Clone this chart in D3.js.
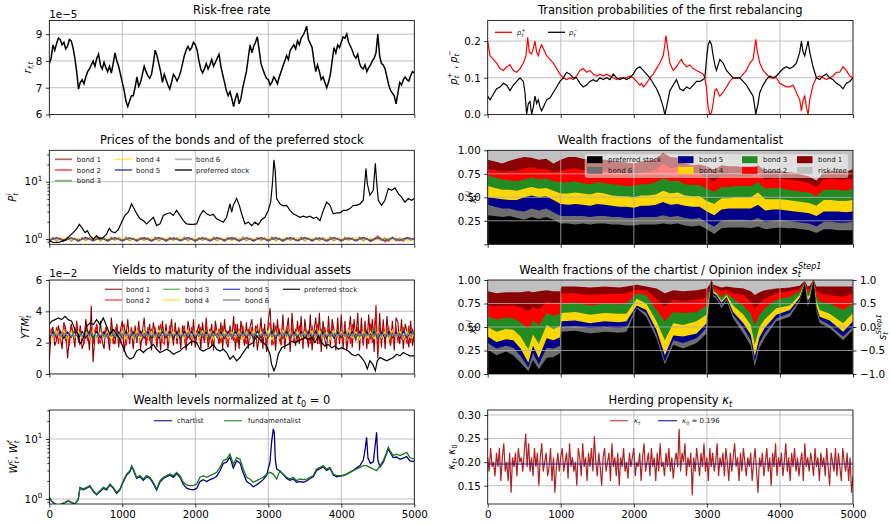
<!DOCTYPE html>
<html>
<head>
<meta charset="utf-8">
<script src="https://cdn.jsdelivr.net/npm/d3@7"></script>
<style>
  body { margin: 0; background: #fff; }
  svg { display: block; }
  text { font-family: "DejaVu Sans", sans-serif; }
</style>
</head>
<body>
<script>
// ---------------------------------------------------------------------------
// Simulation output, t = 0 … 5000
// ---------------------------------------------------------------------------
const xTicks = [0, 1000, 2000, 3000, 4000, 5000];

// Risk-free rate, in units of 1e-5, every 25 steps
const riskFree = [
  7.9,8.1,8.6,8.4,8.65,8.85,8.8,8.6,8.7,8.45,8.55,8.8,8.75,8.5,8.1,7.6,6.95,7.2,7.3,7.15,
  7.4,7.6,7.7,7.85,8.0,7.8,8.1,8.25,7.85,7.7,7.95,7.75,7.6,7.8,7.55,7.9,8.3,8.0,7.8,7.5,
  7.2,6.9,6.5,6.3,6.5,6.7,6.7,7.0,7.4,7.05,7.2,7.5,7.8,7.6,7.45,7.35,7.5,7.9,8.4,8.2,
  7.9,7.6,7.2,7.5,7.3,7.1,6.95,7.2,7.5,7.4,7.25,7.4,7.6,7.9,8.2,8.4,8.55,8.4,8.5,8.7,
  8.6,8.4,8.0,7.7,7.55,7.7,7.9,7.7,7.85,8.05,7.8,7.95,8.1,8.25,7.8,7.5,7.2,6.9,6.7,6.85,
  6.6,6.3,6.6,6.8,6.4,6.6,7.0,7.3,7.6,8.1,8.6,8.3,8.55,8.7,8.9,8.4,7.9,7.7,7.5,7.35,
  7.3,7.1,7.2,7.4,7.3,7.15,7.4,7.6,7.8,8.0,8.2,8.05,8.4,8.5,8.6,8.45,8.75,8.6,8.85,8.95,
  9.1,9.3,8.8,8.65,8.5,8.0,7.6,7.85,7.6,7.3,7.4,7.2,7.0,7.2,7.5,8.0,8.5,8.3,8.6,8.5,
  8.7,8.9,8.85,9.0,8.7,8.55,8.4,8.2,8.1,8.25,7.9,7.75,7.7,7.85,7.6,7.75,7.85,8.0,8.1,8.3,
  9.0,8.2,7.9,7.85,7.7,7.4,7.1,6.9,6.8,6.7,6.4,6.8,7.2,7.1,7.3,7.4,7.3,7.25,7.45,7.6,
  7.55
];

// Transition probabilities of the first rebalancing, [t, p]
const pPlus = [
  [0,0.2],[32,0.16],[77,0.15],[123,0.14],[169,0.125],[214,0.12],[260,0.13],[305,0.135],[351,0.12],[397,0.115],
  [442,0.125],[488,0.14],[524,0.16],[547,0.21],[570,0.17],[602,0.165],[624,0.18],[647,0.2],[670,0.17],[693,0.16],
  [716,0.18],[738,0.19],[761,0.18],[784,0.17],[807,0.16],[852,0.15],[898,0.14],[944,0.125],[989,0.11],[1035,0.1],
  [1080,0.095],[1126,0.1],[1171,0.095],[1217,0.105],[1263,0.12],[1308,0.125],[1354,0.115],[1399,0.12],[1445,0.11],[1490,0.105],
  [1536,0.11],[1582,0.105],[1627,0.11],[1673,0.105],[1718,0.1],[1764,0.095],[1810,0.1],[1855,0.1],[1901,0.1],[1946,0.105],
  [1992,0.1],[2037,0.09],[2083,0.08],[2106,0.085],[2129,0.075],[2174,0.085],[2220,0.1],[2265,0.11],[2311,0.125],[2356,0.14],
  [2402,0.16],[2425,0.19],[2439,0.215],[2457,0.19],[2493,0.14],[2539,0.12],[2584,0.13],[2630,0.145],[2653,0.15],[2676,0.14],
  [2721,0.13],[2767,0.135],[2812,0.125],[2858,0.12],[2903,0.115],[2949,0.11],[2972,0.1],[2995,0.07],[3017,0.02],[3040,0.0],
  [3063,0.005],[3086,0.03],[3109,0.065],[3131,0.07],[3177,0.05],[3222,0.06],[3268,0.075],[3314,0.09],[3359,0.1],[3405,0.1],
  [3450,0.1],[3496,0.11],[3542,0.12],[3587,0.14],[3633,0.15],[3669,0.205],[3692,0.17],[3724,0.14],[3770,0.12],[3815,0.11],
  [3861,0.1],[3906,0.1],[3952,0.1],[3997,0.085],[4043,0.08],[4089,0.075],[4134,0.075],[4180,0.08],[4225,0.06],[4271,0.04],
  [4294,0.01],[4317,0.04],[4339,0.05],[4362,0.02],[4385,0.0],[4408,0.04],[4453,0.08],[4499,0.1],[4544,0.105],[4590,0.1],
  [4636,0.095],[4681,0.1],[4727,0.105],[4772,0.115],[4818,0.115],[4863,0.13],[4909,0.12],[4955,0.105],[5000,0.1]
];
const pMinus = [
  [0,0.05],[32,0.04],[77,0.055],[123,0.07],[169,0.075],[214,0.085],[260,0.08],[305,0.065],[351,0.08],[397,0.09],
  [442,0.1],[488,0.09],[510,0.06],[533,0.0],[556,0.03],[579,0.035],[602,0.0],[624,0.02],[647,0.05],[670,0.03],
  [693,0.04],[716,0.02],[738,0.01],[761,0.02],[807,0.04],[852,0.045],[898,0.06],[944,0.075],[989,0.09],[1035,0.1],
  [1080,0.115],[1126,0.11],[1171,0.1],[1217,0.1],[1263,0.085],[1308,0.075],[1354,0.08],[1399,0.09],[1445,0.095],[1490,0.09],
  [1536,0.1],[1582,0.095],[1627,0.1],[1673,0.095],[1718,0.11],[1764,0.1],[1810,0.095],[1855,0.1],[1901,0.095],[1946,0.1],
  [1992,0.11],[2037,0.125],[2083,0.13],[2129,0.12],[2174,0.11],[2220,0.1],[2265,0.085],[2311,0.07],[2356,0.05],[2402,0.02],
  [2425,0.0],[2448,0.02],[2493,0.065],[2539,0.08],[2584,0.095],[2630,0.07],[2676,0.065],[2721,0.075],[2767,0.07],[2812,0.08],
  [2858,0.09],[2903,0.09],[2949,0.095],[2972,0.1],[2995,0.15],[3017,0.19],[3040,0.2],[3063,0.19],[3086,0.16],[3109,0.135],
  [3131,0.12],[3177,0.15],[3222,0.14],[3268,0.12],[3314,0.11],[3359,0.1],[3405,0.1],[3450,0.1],[3496,0.09],[3542,0.08],
  [3587,0.065],[3633,0.05],[3656,0.02],[3669,0.0],[3701,0.03],[3724,0.06],[3770,0.08],[3815,0.095],[3861,0.105],[3906,0.1],
  [3952,0.105],[3997,0.115],[4043,0.125],[4089,0.13],[4134,0.125],[4180,0.13],[4225,0.14],[4271,0.17],[4294,0.2],[4317,0.17],
  [4339,0.16],[4362,0.18],[4385,0.2],[4408,0.17],[4453,0.13],[4499,0.1],[4544,0.095],[4590,0.105],[4636,0.11],[4681,0.1],
  [4727,0.095],[4772,0.085],[4818,0.08],[4863,0.07],[4909,0.085],[4955,0.09],[5000,0.1]
];

// Bond prices (evenly spaced over t)
const bondPrice1 = [
  0.93,1.07,0.91,1.05,0.95,1.08,0.92,1.04,0.90,1.06,0.94,1.05,0.92,1.08,0.93,1.04,0.91,1.07,0.95,1.05,
  0.92,1.08,0.93,1.04,0.91,1.06,0.94,1.05,0.92,1.08,0.93,1.04,0.91,1.07,0.95,1.05,0.92,1.08,0.93,1.04,
  0.91,1.06,0.94,1.05,0.92,1.08,0.93,1.04,0.91,1.07,0.95,1.05,0.92,1.08,0.93,1.04,0.91,1.06,0.94,1.05,
  0.92,1.09,0.93,1.04,0.91,1.07,0.95,1.05,0.92,1.08,0.93,1.04,0.91,1.06,0.94,1.05,0.92,1.08,0.93,1.04,
  0.91,1.07,0.95,1.05,0.92,1.08,0.93,1.04,0.90,0.97,1.07,0.94,1.05,0.92,1.08,0.93,1.04,0.91,1.06,0.95,1.0
];
const bondPrice2 = [
  0.94,1.06,0.92,1.05,0.93,1.07,0.94,1.05,0.92,1.06,0.93,1.05,0.94,1.07,0.92,1.06,0.93,1.05,0.94,1.06,
  0.92,1.07,0.93,1.05,0.94,1.06,0.92,1.05,0.93,1.07,0.94,1.06,0.92,1.05,0.93,1.07,0.94,1.05,0.92,1.06,
  0.93,1.05,0.94,1.07,0.92,1.14,0.89,1.05,0.93,1.06,0.99
];
const bondPrice3 = [
  0.95,1.05,0.93,1.06,0.94,1.05,0.95,1.07,0.93,1.05,0.94,1.06,0.95,1.05,0.93,1.07,0.94,1.05,0.95,1.06,
  0.93,1.05,0.94,1.07,0.95,1.05,0.93,1.06,0.94,1.05,0.95,1.07,0.93,1.05,0.94,1.06,0.95,1.05,0.93,1.07,
  0.94,1.05,0.95,1.06,0.93,1.05,0.94,1.07,0.95,1.05,1.0
];
const bondPrice4 = [
  1.05,0.94,1.06,0.95,1.05,0.93,1.06,0.94,1.05,0.95,1.07,0.94,1.05,0.93,1.06,0.95,1.05,0.94,1.07,0.93,
  1.05,0.95,1.06,0.94,1.05,0.93,1.07,0.95,1.05,0.94,1.06,0.93,1.05,0.95,1.07,0.94,1.05,0.93,1.06,0.95,
  1.05,0.94,1.07,0.93,1.05,0.95,1.06,0.94,1.05,0.93,1.0
];
const bondPrice5 = [
  0.96,1.05,0.94,1.04,0.95,1.06,0.94,1.04,0.96,1.05,0.94,1.04,0.95,1.05,0.94,1.06,0.96,1.04,0.94,1.05,
  0.95,1.04,0.94,1.05,0.96,1.06,0.94,1.04,0.95,1.05,0.94,1.04,0.96,1.06,0.94,1.05,0.95,1.04,0.94,1.05,
  0.96,1.04,0.94,1.06,0.95,1.05,0.94,1.04,0.96,1.05,1.0
];
const bondPrice6 = [
  0.96,1.03,0.95,1.04,0.96,1.03,0.95,1.04,0.96,1.03,0.95,1.04,0.96,1.03,0.95,1.04,0.96,1.03,0.95,1.04,
  0.96,1.03,0.95,1.04,0.96,1.03,0.95,1.04,0.96,1.03,0.95,1.04,0.96,1.03,0.95,1.04,0.96,1.03,0.95,1.04,
  0.96,1.03,0.95,1.04,0.96,1.03,0.95,1.04,0.96,1.03,1.0
];

// Preferred stock price, [t, P]
const prefPrice = [
  [0,0.93],[55,0.87],[123,0.87],[192,0.93],[237,1.0],[283,1.15],[329,1.31],[374,1.5],[411,1.8],[443,1.6],
  [489,1.3],[521,1.4],[557,1.15],[603,1.0],[648,1.15],[694,1.0],[740,1.07],[785,1.22],[822,1.54],[854,1.35],
  [899,1.28],[945,1.46],[991,1.97],[1036,2.58],[1082,2.95],[1128,4.1],[1151,3.6],[1196,2.8],[1242,2.25],[1288,2.1],
  [1333,1.84],[1379,2.1],[1425,2.4],[1470,1.72],[1516,1.84],[1562,2.58],[1607,2.76],[1653,2.87],[1699,2.58],[1744,3.16],
  [1790,2.58],[1836,2.1],[1881,1.84],[1927,1.8],[1973,1.8],[2018,1.84],[2064,2.58],[2109,3.16],[2155,2.76],[2201,2.58],
  [2246,2.7],[2292,2.25],[2338,2.1],[2383,1.97],[2429,2.4],[2475,4.1],[2498,2.95],[2520,3.87],[2566,5.1],[2603,3.87],
  [2635,2.76],[2680,1.84],[2726,1.97],[2772,1.72],[2817,1.97],[2863,1.77],[2909,2.2],[2954,2.4],[3000,3.16],[3032,4.4],
  [3059,10],[3077,24],[3096,15],[3114,5.1],[3160,4.1],[3205,3.8],[3251,3.87],[3297,3.16],[3342,2.76],[3388,2.58],
  [3434,2.4],[3479,2.5],[3525,2.4],[3571,2.5],[3616,2.3],[3662,2.4],[3708,2.1],[3753,3.16],[3799,4.4],[3845,3.87],
  [3890,2.76],[3936,2.87],[3982,2.87],[4027,3.16],[4073,3.16],[4119,3.4],[4164,3.87],[4210,3.87],[4256,4.1],[4301,4.75],
  [4338,17],[4356,9.3],[4392,5.8],[4438,7.1],[4466,21],[4484,10],[4507,4.75],[4552,3.87],[4598,4.75],[4644,7.6],
  [4689,7.1],[4735,7.8],[4781,6.2],[4826,5.4],[4872,4.4],[4918,5.1],[4963,4.75],[5000,5.1]
];

// Yields to maturity, in units of 1e-2 (evenly spaced over t)
const bondYield1 = [
  0.9,2.6,3.0,1.8,2.2,3.1,2.4,1.6, 3.3,2.9,1.0,2.3,3.2,2.6,1.7,3.4, 2.2,3.1,1.6,2.0,3.5,2.7,1.5,4.35,
  0.75,2.5,3.2,1.9,3.4,2.1,1.6,3.0, 2.6,1.5,3.6,2.3,1.9,3.2,1.7,2.8, 3.4,1.4,2.4,3.5,1.9,2.9,1.6,3.1,
  2.0,3.4,1.6,2.7,3.6,1.8,2.4,3.2, 1.5,3.3,2.6,1.7,3.1,1.5,3.4,2.2, 3.2,1.6,2.5,3.5,1.8,3.3,1.9,2.9,
  1.6,3.1,2.3,1.5,3.4,2.7,1.8,3.5, 1.7,2.7,3.2,1.6,3.3,2.0,3.6,1.7, 2.4,3.2,1.5,3.4,2.6,1.9,3.3,1.6,
  3.5,2.0,1.7,3.1,2.2,3.7,1.5,3.2, 1.6,3.4,2.6,1.8,3.3,1.6,3.0,3.5, 1.7,3.1,1.5,2.4,3.6,1.6,3.2,1.4,
  3.4,4.2,1.8,3.3,1.5,3.5,2.2,1.9, 3.8,1.6,2.8,3.6,1.4,3.9,2.3,1.8, 3.4,1.9,3.7,1.6,3.5,2.5,1.7,3.8,
  1.5,2.7,3.6,1.9,3.9,1.4,3.4,2.2, 1.6,3.7,1.8,3.5,2.8,1.5,3.6,1.9, 3.8,1.6,3.4,1.5,2.6,3.7,1.7,3.5,
  2.3,3.9,1.5,3.6,1.8,3.4,1.6,3.8, 2.2,3.5,1.4,4.4,1.0,3.9,1.7,3.5, 1.6,3.7,2.4,1.8,3.4,1.5,3.6,3.3,
  1.9,3.5,1.6,3.2,2.7,1.7,3.4,1.8, 2.6
];
const bondYield2 = [
  2.0,2.9,2.6,2.2,3.0,1.9,2.8,2.3, 3.1,2.1,2.5,1.8,3.0,2.7,2.2,3.2, 2.0,2.9,2.3,1.9,3.1,2.1,2.6,3.0,
  1.9,2.8,3.1,2.2,2.0,2.7,2.3,3.0, 2.5,2.1,3.0,1.9,2.8,3.1,2.2,2.0, 2.9,3.2,1.8,2.6,2.1,3.0,2.3,2.8,
  2.0,3.1,2.5,2.2,2.8,1.9,3.0,2.1, 2.9,2.3,3.0,2.0,2.6,3.2,2.1,1.9, 2.8,2.2,3.1,2.5,2.0,2.9,2.3,3.0,
  2.1,2.7,3.1,1.9,2.9,2.2,3.0,2.4, 2.0,2.8,2.2,3.0,2.6,2.0,3.2,2.1, 2.9,1.8,2.5,3.0,2.3,2.9,2.0,3.1,
  2.2,2.8,1.9,3.0,2.6,2.1,3.2,2.0, 2.9,2.2,3.1,2.4,1.9,2.9,2.2,3.0, 2.0,2.8,3.1,2.3,2.0,2.9,2.6,1.9,
  3.0,3.3,2.1,1.9,3.1,2.5,2.9,1.8, 3.2,2.2,3.0,2.6,1.9,3.2,2.0,2.9, 2.1,3.1,2.4,2.0,3.0,2.2,2.8,1.9,
  3.1,2.1,2.7,3.2,1.9,2.9,2.3,3.0, 2.2,2.9,2.0,3.1,2.5,1.9,3.0,2.2, 2.8,2.0,3.1,2.3,2.9,1.9,3.2,2.5,
  2.1,3.0,2.2,2.9,2.0,3.1,2.6,1.9, 3.2,2.0,3.0,3.9,1.3,2.9,2.1,3.1, 2.2,2.8,3.0,1.9,2.9,2.1,3.1,2.0,
  2.8,2.2,3.0,2.5,1.9,3.1,2.0,2.9, 2.4
];
const bondYield3 = [
  2.3,2.8,2.4,2.75,2.25,2.7,2.35,2.85,2.3,2.7, 2.4,2.8,2.25,2.7,2.35,2.75,2.3,2.8,2.4,2.65,
  2.3,2.8,2.35,2.7,2.25,2.75,2.4,2.8,2.3,2.7, 2.35,2.85,2.3,2.7,2.4,2.75,2.25,2.8,2.35,2.7,
  2.3,2.75,2.4,2.8,2.25,2.7,2.35,2.85,2.3,2.7, 2.4,2.8,2.3,2.75,2.35,2.7,2.25,2.8,2.4,2.75,
  2.3,2.85,2.35,2.7,2.25,2.8,2.4,2.75,2.3,2.7, 2.35,2.8,2.3,2.75,2.4,2.85,2.25,2.7,2.35,2.8,
  2.3,2.75,2.4,2.8,2.25,2.7,2.35,2.8,2.3,2.9, 2.2,2.75,2.35,2.8,2.3,2.7,2.4,2.75,2.3,2.8, 2.5
];
const bondYield4 = [
  2.7,2.25,2.75,2.3,2.8,2.2,2.7,2.3,2.75,2.25, 2.7,2.3,2.8,2.25,2.7,2.35,2.75,2.2,2.7,2.3,
  2.75,2.25,2.7,2.3,2.8,2.2,2.75,2.3,2.7,2.25, 2.8,2.3,2.7,2.2,2.75,2.3,2.7,2.25,2.8,2.3,
  2.7,2.25,2.75,2.3,2.7,2.2,2.8,2.3,2.75,2.25, 2.7,2.3,2.75,2.2,2.7,2.3,2.8,2.25,2.7,2.3,
  2.75,2.2,2.7,2.3,2.8,2.25,2.7,2.3,2.75,2.2, 2.7,2.3,2.75,2.25,2.8,2.3,2.7,2.2,2.75,2.3,
  2.7,2.25,2.8,2.3,2.7,2.2,2.75,2.3,2.7,2.25, 2.75,2.3,2.7,2.2,2.8,2.3,2.75,2.25,2.7,2.3, 2.5
];
const bondYield5 = [
  2.31,2.69,2.34,2.72,2.30,2.67,2.35,2.70,2.32,2.71, 2.29,2.68,2.33,2.72,2.31,2.66,2.34,2.70,2.30,2.69,
  2.35,2.71,2.31,2.67,2.33,2.72,2.29,2.69,2.34,2.70, 2.30,2.68,2.35,2.71,2.32,2.66,2.31,2.72,2.33,2.69,
  2.29,2.70,2.34,2.67,2.31,2.71,2.35,2.68,2.30,2.72, 2.33,2.69,2.31,2.70,2.34,2.66,2.30,2.71,2.32,2.68,
  2.35,2.72,2.29,2.69,2.33,2.70,2.31,2.67,2.34,2.71, 2.30,2.68,2.32,2.72,2.35,2.69,2.31,2.70,2.29,2.66,
  2.34,2.71,2.30,2.68,2.33,2.72,2.31,2.69,2.35,2.70, 2.32,2.67,2.29,2.71,2.34,2.68,2.30,2.72,2.33,2.69, 2.50
];
const bondYield6 = [
  2.40,2.61,2.37,2.63,2.42,2.59,2.38,2.62,2.41,2.60, 2.36,2.63,2.40,2.58,2.38,2.62,2.43,2.60,2.37,2.64,
  2.41,2.59,2.38,2.62,2.40,2.61,2.36,2.63,2.42,2.58, 2.39,2.62,2.37,2.60,2.41,2.63,2.38,2.59,2.40,2.62,
  2.37,2.61,2.42,2.58,2.38,2.63,2.40,2.60,2.36,2.62, 2.41,2.59,2.39,2.63,2.37,2.61,2.42,2.58,2.38,2.62,
  2.40,2.60,2.36,2.63,2.41,2.59,2.38,2.62,2.43,2.60, 2.37,2.64,2.40,2.58,2.38,2.62,2.41,2.60,2.36,2.63,
  2.42,2.59,2.39,2.62,2.37,2.61,2.40,2.58,2.38,2.63, 2.41,2.60,2.37,2.62,2.42,2.59,2.38,2.61,2.40,2.63,
  2.36,2.60,2.41,2.58,2.39,2.62,2.37,2.64,2.42,2.59, 2.38,2.61,2.40,2.63,2.36,2.60,2.41,2.58,2.39,2.62,
  2.37,2.60,2.42,2.59,2.38,2.63,2.40,2.61,2.36,2.62, 2.41,2.58,2.39,2.63,2.37,2.60,2.42,2.59,2.38,2.62,
  2.40,2.61,2.36,2.63,2.41,2.59,2.38,2.62,2.43,2.60, 2.37,2.62,2.40,2.58,2.38,2.63,2.41,2.60,2.36,2.61,
  2.42,2.59,2.39,2.62,2.37,2.61,2.40,2.58,2.38,2.63, 2.41,2.60,2.37,2.62,2.42,2.59,2.38,2.61,2.40,2.63,
  2.36,2.60,2.41,2.58,2.39,2.62,2.37,2.64,2.42,2.59, 2.38,2.61,2.40,2.63,2.36,2.60,2.41,2.58,2.39,2.62,
  2.50
];
// Preferred stock yield, [t, YTM in 1e-2]
const prefYield = [
  [0,3.16],[32,3.37],[78,3.47],[123,3.58],[169,3.47],[215,3.68],[260,3.47],[306,3.37],[352,2.84],[397,2.53],
  [420,1.9],[466,2.3],[511,3.05],[557,3.26],[603,3.16],[648,3.47],[694,3.16],[740,3.58],[785,3.05],[831,2.53],
  [877,2.84],[922,2.53],[968,2.21],[1014,1.68],[1059,1.16],[1105,0.95],[1151,1.05],[1196,1.47],[1242,1.58],[1288,1.37],
  [1333,1.58],[1379,1.68],[1425,1.89],[1470,1.58],[1516,1.37],[1562,1.47],[1607,1.58],[1653,1.47],[1699,1.26],[1744,1.37],
  [1790,1.47],[1836,1.68],[1881,1.79],[1927,2.0],[1973,2.1],[2018,2.0],[2064,1.58],[2109,1.47],[2155,1.58],[2201,1.68],
  [2246,1.89],[2292,1.58],[2338,1.47],[2383,1.58],[2429,1.37],[2475,0.95],[2520,1.16],[2566,0.84],[2612,1.05],[2657,1.37],
  [2703,1.68],[2749,1.89],[2794,2.0],[2840,2.42],[2886,2.21],[2931,2.0],[2977,1.79],[3023,1.26],[3045,0.63],[3077,0.21],
  [3105,0.53],[3137,1.26],[3183,1.68],[3228,1.79],[3274,1.89],[3320,2.1],[3365,2.0],[3411,2.1],[3457,2.21],[3502,2.32],
  [3548,2.21],[3594,2.32],[3639,2.0],[3685,2.42],[3730,2.0],[3776,1.79],[3822,1.89],[3867,1.68],[3913,1.79],[3959,1.58],
  [4004,1.68],[4050,1.58],[4096,1.47],[4141,1.26],[4187,1.16],[4233,1.26],[4278,1.05],[4324,0.74],[4356,0.32],[4392,0.84],
  [4429,0.63],[4466,0.21],[4493,0.84],[4530,1.05],[4575,0.95],[4621,0.84],[4667,0.95],[4712,1.05],[4758,1.26],[4804,1.16],
  [4849,1.37],[4895,1.26],[4940,1.16],[5000,1.16]
];

// Wealth fractions of the fundamentalist, every 100 steps
const fundPref = [.31,.30,.29,.30,.28,.26,.29,.27,.29,.26, .22,.22,.21,.22,.21,.22,.22,.21,.21,.20, .20,.21,.21,.21,.22,.21,.22,.20,.19,.20, .16,.11,.17,.18,.18,.18,.17,.19,.16,.17, .18,.17,.17,.16,.15,.12,.16,.16,.15,.15, .15];
const fundBond6 = [.11,.10,.09,.08,.08,.09,.09,.09,.09,.08, .08,.08,.09,.08,.08,.08,.08,.08,.08,.08, .08,.08,.08,.08,.09,.08,.08,.08,.08,.08, .07,.08,.08,.08,.08,.08,.08,.09,.08,.08, .08,.08,.07,.07,.07,.07,.08,.08,.08,.08, .09];
const fundBond5 = [.08,.09,.10,.09,.11,.15,.14,.14,.13,.13, .13,.12,.13,.12,.12,.13,.12,.12,.11,.12, .11,.12,.12,.13,.14,.13,.13,.13,.13,.12, .12,.12,.12,.12,.12,.12,.13,.14,.12,.12, .11,.11,.11,.11,.11,.11,.11,.11,.12,.11, .11];
const fundBond4 = [.12,.11,.10,.11,.10,.09,.09,.09,.09,.10, .11,.12,.12,.12,.12,.12,.12,.11,.11,.11, .11,.11,.11,.11,.12,.12,.12,.11,.11,.11, .11,.12,.12,.11,.12,.12,.12,.13,.12,.11, .11,.11,.11,.11,.11,.11,.12,.12,.11,.12, .12];
const fundBond3 = [.11,.11,.11,.10,.10,.10,.10,.10,.10,.10, .12,.12,.12,.11,.11,.11,.11,.12,.12,.11, .12,.12,.12,.13,.13,.13,.13,.12,.12,.12, .13,.13,.12,.12,.12,.12,.12,.11,.11,.12, .12,.11,.11,.11,.11,.10,.11,.11,.12,.11, .12];
const fundBond2 = [.07,.08,.08,.10,.11,.12,.11,.11,.10,.10, .12,.14,.14,.14,.14,.13,.13,.13,.13,.13, .12,.12,.13,.13,.16,.14,.14,.13,.12,.12, .12,.11,.12,.12,.11,.10,.10,.10,.10,.10, .10,.11,.11,.11,.10,.10,.11,.12,.11,.12, .11];
const fundBond1 = [.10,.09,.09,.11,.13,.12,.10,.10,.11,.09, .12,.13,.12,.12,.12,.12,.12,.12,.12,.12, .12,.12,.12,.12,.11,.12,.10,.09,.09,.10, .12,.12,.11,.10,.10,.10,.08,.08,.09,.08, .08,.08,.08,.07,.07,.07,.07,.08,.09,.08, .10];
const fundRiskFree = [.10,.12,.14,.11,.09,.07,.08,.10,.09,.14, .10,.07,.07,.09,.10,.09,.10,.11,.12,.13, .14,.12,.11,.09,.03,.07,.08,.14,.16,.15, .17,.21,.16,.17,.17,.18,.20,.16,.22,.22, .22,.23,.24,.26,.28,.32,.24,.22,.22,.23, .20];

// Wealth fractions of the chartist, at the listed times
const chartTimes = [0,120,250,350,450,556,620,700,807,900, 990,1010,1200,1400,1600,1800,1900,2040,2170,2310, 2425,2540,2675,2860,2995,3040,3063,3090,3130,3200, 3270,3360,3500,3600,3656,3720,3790,3950,4135,4270, 4340,4380,4408,4460,4500,4545,4680,4865,5000];
const chartPref = [.26,.20,.24,.20,.12,.03,.15,.05,.17,.18, .22,.45,.46,.43,.45,.44,.45,.70,.61,.38, .10,.31,.27,.33,.43,.80,1,.82,.80,.70, .78,.59,.43,.30,.08,.28,.38,.56,.61,.77, .96,.72,.77,1,.66,.54,.49,.36,.47];
const chartBond6 = [.07,.07,.06,.08,.07,.04,.07,.05,.11,.09, .08,.05,.05,.06,.05,.05,.05,.01,.04,.04, .03,.05,.06,.05,.06,.02,0,.02,.02,.03, .02,.04,.06,.06,.05,.05,.05,.03,.04,.02, 0,.03,.02,0,.03,.04,.03,.04,.03];
const chartBond5 = [.07,.07,.07,.08,.08,.05,.08,.07,.10,.09, .09,.06,.06,.05,.06,.06,.06,.02,.03,.05, .07,.05,.07,.05,.05,.02,0,.02,.02,.03, .02,.03,.05,.06,.06,.06,.06,.04,.03,.02, .01,.03,.02,0,.03,.03,.05,.05,.06];
const chartBond4 = [.10,.11,.11,.11,.13,.14,.12,.15,.14,.12, .12,.09,.09,.09,.09,.09,.08,.07,.07,.09, .16,.13,.12,.13,.09,.03,0,.02,.02,.02, .02,.07,.09,.10,.12,.11,.09,.07,.05,.03, 0,.04,.03,0,.05,.07,.07,.09,.09];
const chartBond3 = [.11,.13,.12,.12,.15,.22,.15,.20,.13,.14, .13,.10,.10,.10,.10,.10,.11,.06,.09,.12, .20,.12,.13,.10,.10,.02,0,.02,.01,.04, .02,.07,.10,.12,.21,.13,.12,.09,.09,.04, .01,.04,.04,0,.06,.09,.11,.14,.10];
const chartBond2 = [.12,.14,.13,.14,.16,.19,.14,.17,.12,.13, .12,.11,.10,.11,.10,.11,.11,.04,.05,.12, .16,.13,.12,.13,.08,.03,0,.03,.04,.06, .04,.06,.11,.13,.18,.12,.10,.07,.06,.03, 0,.04,.03,0,.06,.09,.09,.14,.11];
const chartBond1 = [.15,.14,.14,.14,.16,.21,.16,.19,.12,.13, .12,.07,.07,.08,.08,.07,.07,.05,.04,.11, .14,.10,.11,.10,.10,.03,0,.02,.03,.04, .03,.06,.07,.11,.14,.12,.09,.05,.04,.03, .01,.03,.03,0,.04,.07,.09,.11,.07];
const chartRiskFree = [.12,.14,.13,.13,.13,.12,.13,.12,.11,.12, .12,.07,.07,.08,.07,.08,.07,.05,.07,.09, .14,.11,.12,.11,.09,.05,0,.05,.06,.08, .07,.08,.09,.12,.16,.13,.11,.09,.08,.06, .01,.07,.06,0,.07,.07,.07,.07,.07];

// Wealth levels normalized at t0 = 0, [t, W]
const wealthChartist = [
  [0,1.05],[32,0.92],[78,0.82],[123,0.77],[169,0.82],[215,0.87],[260,0.93],[306,0.87],[352,0.82],[397,0.98],
  [420,1.52],[466,1.43],[511,1.52],[557,1.62],[603,1.33],[648,1.17],[694,1.33],[740,1.5],[785,1.42],[831,1.72],
  [877,1.5],[922,1.24],[968,1.42],[1014,1.95],[1059,2.5],[1105,2.85],[1128,3.45],[1151,3.05],[1196,2.2],[1242,2.35],
  [1288,2.05],[1333,2.35],[1379,2.2],[1425,1.8],[1470,1.4],[1516,1.92],[1562,2.2],[1607,2.35],[1653,2.5],[1699,2.3],
  [1744,2.65],[1790,2.3],[1836,1.75],[1881,1.52],[1927,1.45],[1973,1.42],[2018,1.5],[2064,1.95],[2109,2.1],[2155,1.95],
  [2201,2.1],[2246,2.2],[2292,2.4],[2338,2.95],[2383,3.9],[2429,4.1],[2475,5.0],[2520,3.3],[2566,4.3],[2612,4.0],
  [2657,2.7],[2703,1.95],[2749,1.8],[2794,1.6],[2840,1.72],[2886,1.9],[2931,2.1],[2977,2.5],[3000,3.2],[3023,4.1],
  [3045,8.8],[3068,14.7],[3082,12.9],[3096,4.6],[3114,3.2],[3160,2.9],[3205,2.55],[3251,2.2],[3297,2.05],[3342,2.15],
  [3388,1.9],[3434,1.95],[3479,1.9],[3525,2.0],[3571,2.2],[3616,2.35],[3662,3.0],[3708,3.2],[3753,3.45],[3799,3.0],
  [3845,3.25],[3890,2.5],[3936,2.35],[3982,2.4],[4027,2.45],[4073,2.6],[4119,2.8],[4164,3.0],[4210,3.3],[4256,3.6],
  [4300,4.4],[4320,6.0],[4347,10.6],[4365,4.8],[4400,3.9],[4440,4.2],[4462,7.5],[4484,12.9],[4500,4.5],[4530,3.4],
  [4575,4.1],[4621,5.7],[4644,6.9],[4667,6.0],[4712,4.9],[4758,5.0],[4804,4.6],[4849,4.8],[4895,5.1],[4940,4.3],[5000,4.2]
];
const wealthFundamentalist = [
  [0,1.07],[32,0.94],[78,0.83],[123,0.77],[169,0.83],[215,0.88],[260,0.94],[306,0.88],[352,0.83],[397,1.0],
  [420,1.56],[466,1.47],[511,1.56],[557,1.67],[603,1.38],[648,1.21],[694,1.38],[740,1.56],[785,1.47],[831,1.78],
  [877,1.56],[922,1.29],[968,1.47],[1014,2.02],[1059,2.6],[1105,2.97],[1128,3.6],[1151,3.16],[1196,2.3],[1242,2.45],
  [1288,2.15],[1333,2.45],[1379,2.3],[1425,1.9],[1470,1.47],[1516,2.02],[1562,2.3],[1607,2.45],[1653,2.6],[1699,2.45],
  [1744,2.78],[1790,2.45],[1836,1.9],[1881,1.71],[1927,1.67],[1973,1.67],[2018,1.78],[2064,2.3],[2109,2.45],[2155,2.3],
  [2201,2.45],[2246,2.6],[2292,2.78],[2338,3.37],[2383,4.35],[2429,4.6],[2475,5.6],[2520,3.8],[2566,4.9],[2612,4.6],
  [2657,3.16],[2703,2.3],[2749,2.15],[2794,1.9],[2840,2.02],[2886,2.15],[2931,2.3],[2977,2.6],[3023,2.78],[3068,2.6],
  [3114,2.15],[3160,2.97],[3205,2.6],[3251,2.3],[3297,2.15],[3342,2.3],[3388,2.02],[3434,2.15],[3479,2.1],[3525,2.15],
  [3571,2.3],[3616,2.45],[3662,3.16],[3708,3.37],[3753,3.6],[3799,3.16],[3845,3.37],[3890,2.6],[3936,2.45],[3982,2.45],
  [4027,2.5],[4073,2.6],[4119,2.78],[4164,2.97],[4210,3.16],[4256,3.37],[4301,3.6],[4347,3.6],[4392,3.37],[4438,3.16],
  [4484,2.97],[4530,3.6],[4575,4.35],[4621,6.0],[4644,7.3],[4667,6.4],[4712,5.3],[4758,5.6],[4804,5.3],[4849,5.6],
  [4895,6.0],[4940,4.9],[5000,4.6]
];

// Herding propensity, every 20 steps
const kappa = [
  .21,.18,.23,.19,.20,.17,.22,.19,.23,.16, .21,.24,.18,.20,.16,.22,.135,.21,.19,.22,
  .17,.23,.20,.21,.18,.22,.26,.19,.24,.18, .21,.17,.23,.19,.22,.15,.21,.24,.18,.20,
  .22,.17,.19,.23,.16,.21,.135,.19,.22,.18, .21,.23,.18,.20,.22,.165,.24,.19,.21,.18,
  .20,.15,.23,.21,.17,.24,.19,.21,.16,.22, .19,.23,.18,.255,.20,.17,.22,.19,.15,.21,
  .23,.18,.20,.22,.16,.24,.19,.21,.17,.22, .15,.21,.19,.23,.18,.20,.165,.22,.19,.21,
  .23,.17,.20,.19,.22,.16,.21,.24,.18,.20, .22,.17,.23,.19,.21,.16,.22,.18,.24,.19,
  .20,.17,.22,.19,.23,.18,.21,.165,.20,.22, .19,.27,.18,.22,.20,.24,.17,.21,.19,.22,
  .13,.21,.18,.23,.20,.17,.22,.19,.24,.18, .21,.16,.23,.19,.22,.18,.20,.24,.17,.21,
  .19,.22,.17,.23,.20,.16,.22,.18,.21,.24, .19,.21,.16,.22,.18,.23,.20,.17,.21,.19,
  .22,.16,.20,.23,.18,.135,.21,.19,.22,.17, .20,.23,.18,.21,.15,.22,.19,.24,.17,.21,
  .19,.22,.17,.20,.24,.18,.21,.16,.22,.19, .23,.18,.21,.17,.20,.22,.16,.24,.19,.21,
  .18,.22,.20,.17,.23,.19,.21,.16,.22,.19, .21,.17,.23,.19,.15,.22,.20,.18,.23,.17,
  .22,.19,.16,.23,.20,.18,.22,.16,.21,.135, .17
];
const kappa0 = 0.196;

// ---------------------------------------------------------------------------
// Layout and helpers
// ---------------------------------------------------------------------------
const W = 890, H = 526;
const TICK_FS = 10.3, TITLE_FS = 11.5, LABEL_FS = 10, LEG_FS = 7;
const COLS = [{ x: 49.3, w: 365 }, { x: 487.7, w: 365.3 }];
const ROWS = [20.5, 150.3, 280, 410];
const PH = 94;

const svg = d3.select('body').append('svg').attr('width', W).attr('height', H);
const defs = svg.append('defs');

function panel(col, row, name) {
  const c = COLS[col], top = ROWS[row];
  const g = svg.append('g').attr('transform', `translate(${c.x},${top})`);
  defs.append('clipPath').attr('id', 'clip-' + name)
    .append('rect').attr('width', c.w).attr('height', PH);
  const x = d3.scaleLinear().domain([0, 5000]).range([0, c.w]);
  const under = g.append('g').attr('clip-path', `url(#clip-${name})`);
  return { g, under, x, w: c.w, h: PH, left: c.x, top, name };
}

// Text with italic / subscript / superscript pieces
function rich(sel, parts, fs) {
  let shift = 0;
  for (const [txt, kind = '', back = 0] of parts) {
    const ts = sel.append('tspan').text(txt);
    let target = 0, size = fs;
    if (kind.includes('sub')) { target = fs * 0.28; size = fs * 0.7; }
    if (kind.includes('sup')) { target = -fs * 0.42; size = fs * 0.7; }
    if (target !== shift) ts.attr('dy', (target - shift).toFixed(2));
    shift = target;
    ts.attr('font-size', size);
    if (kind.includes('it')) ts.attr('font-style', 'italic');
    if (back) ts.attr('dx', -back);
  }
}

function styleAxis(sel) {
  sel.select('.domain').remove();
  sel.selectAll('.tick line').attr('stroke', '#000').attr('stroke-width', 0.8);
  sel.selectAll('.tick text').attr('font-size', TICK_FS).attr('fill', '#000')
    .attr('font-family', '"DejaVu Sans", sans-serif');
}

function grid(p, layer, y, yTicks) {
  const gg = layer.append('g').attr('stroke', '#b0b0b0').attr('stroke-width', 0.8);
  gg.selectAll(null).data(xTicks).join('line')
    .attr('x1', d => p.x(d)).attr('x2', d => p.x(d)).attr('y1', 0).attr('y2', p.h);
  gg.selectAll(null).data(yTicks).join('line')
    .attr('x1', 0).attr('x2', p.w).attr('y1', d => y(d)).attr('y2', d => y(d));
}

function xAxis(p, labels) {
  p.g.append('g').attr('transform', `translate(0,${p.h})`)
    .call(d3.axisBottom(p.x).tickValues(xTicks).tickSize(3.5).tickPadding(3.5)
      .tickFormat(labels ? d3.format('d') : () => ''))
    .call(styleAxis);
}

function yAxis(p, y, ticks, fmt) {
  p.g.append('g')
    .call(d3.axisLeft(y).tickValues(ticks).tickSize(3.5).tickPadding(3.5).tickFormat(fmt))
    .call(styleAxis);
}

function logYAxis(p, y, majors, minors) {
  p.g.append('g')
    .call(d3.axisLeft(y).tickValues(majors).tickSize(3.5).tickFormat(() => ''))
    .call(styleAxis);
  p.g.append('g')
    .call(d3.axisLeft(y).tickValues(minors).tickSize(2).tickFormat(() => ''))
    .call(styleAxis);
  majors.forEach(v => {
    const t = p.g.append('text').attr('x', -7).attr('y', y(v)).attr('dy', '0.35em')
      .attr('text-anchor', 'end').attr('font-size', TICK_FS);
    rich(t, [['10'], [String(Math.round(Math.log10(v))), 'sup']], TICK_FS);
  });
}

function frame(p) {
  p.g.append('rect').attr('width', p.w).attr('height', p.h)
    .attr('fill', 'none').attr('stroke', '#000').attr('stroke-width', 0.8);
}

function title(p, parts) {
  const t = svg.append('text').attr('x', p.left + p.w / 2).attr('y', p.top - 6.5)
    .attr('text-anchor', 'middle').attr('font-size', TITLE_FS).style('white-space', 'pre');
  rich(t, parts, TITLE_FS);
}

function ylabel(cx, cy, parts) {
  const t = svg.append('text').attr('transform', `translate(${cx},${cy}) rotate(-90)`)
    .attr('text-anchor', 'middle').attr('dy', '0.35em').attr('font-size', LABEL_FS);
  rich(t, parts, LABEL_FS);
}

function legendLine(x1, x2, y, color, parts, tx, opts = {}) {
  svg.append('line').attr('x1', x1).attr('x2', x2).attr('y1', y).attr('y2', y)
    .attr('stroke', color).attr('stroke-width', opts.width || 1.3)
    .attr('stroke-opacity', opts.opacity || 1);
  const t = svg.append('text').attr('x', tx).attr('y', y + 2.5).attr('font-size', LEG_FS)
    .attr('fill', '#222');
  rich(t, typeof parts === 'string' ? [[parts]] : parts, LEG_FS);
}

function offsetText(p, txt) {
  svg.append('text').attr('x', p.left).attr('y', p.top - 3)
    .attr('font-size', TICK_FS).text(txt);
}

const evenT = arr => arr.map((v, i) => [i * 5000 / (arr.length - 1), v]);
const TW = 2.6; // width of a small subscript "t", used to stack super over sub

// ---------------------------------------------------------------------------
// 1. Risk-free rate
// ---------------------------------------------------------------------------
{
  const p = panel(0, 0, 'rf');
  const y = d3.scaleLinear().domain([6, 9.51]).range([p.h, 0]);
  grid(p, p.under, y, [6, 7, 8, 9]);
  p.under.append('path').datum(riskFree.map((v, i) => [i * 25, v]))
    .attr('fill', 'none').attr('stroke', '#000').attr('stroke-width', 1.5)
    .attr('d', d3.line().x(d => p.x(d[0])).y(d => y(d[1])));
  xAxis(p, false);
  yAxis(p, y, [6, 7, 8, 9], d3.format('d'));
  frame(p);
  title(p, [['Risk-free rate']]);
  offsetText(p, '1e\u22125');
  ylabel(27, p.top + p.h / 2, [['r', 'it'], ['f,t', 'subit']]);
}

// ---------------------------------------------------------------------------
// 2. Transition probabilities
// ---------------------------------------------------------------------------
{
  const p = panel(1, 0, 'prob');
  const y = d3.scaleLinear().domain([0, 0.256]).range([p.h, 0]);
  grid(p, p.under, y, [0, 0.1, 0.2]);
  const line = d3.line().x(d => p.x(d[0])).y(d => y(d[1]));
  p.under.append('path').datum(pPlus).attr('fill', 'none').attr('stroke', '#ff0000')
    .attr('stroke-width', 1.2).attr('d', line);
  p.under.append('path').datum(pMinus).attr('fill', 'none').attr('stroke', '#000')
    .attr('stroke-width', 1.2).attr('d', line);
  xAxis(p, false);
  yAxis(p, y, [0, 0.1, 0.2], d3.format('.1f'));
  frame(p);
  title(p, [['Transition probabilities of the first rebalancing']]);
  ylabel(453, p.top + p.h / 2,
    [['p', 'it'], ['t', 'subit'], ['+', 'sup', TW], [' , '], ['p', 'it'], ['t', 'subit'], ['\u2212', 'sup', TW]]);
  legendLine(495, 512, 32.3, '#ff0000', [['p', 'it'], ['t', 'subit'], ['+', 'sup', 2]], 517);
  legendLine(548, 565, 32.3, '#000', [['p', 'it'], ['t', 'subit'], ['\u2212', 'sup', 2]], 569);
}

// ---------------------------------------------------------------------------
// 3. Prices of the bonds and of the preferred stock (log scale)
// ---------------------------------------------------------------------------
const bondColors = ['#8b0000', '#ff0000', '#228b22', '#ffd700', '#00008b', '#808080'];
{
  const p = panel(0, 1, 'price');
  const y = d3.scaleLog().domain([0.81, 35.3]).range([p.h, 0]);
  grid(p, p.under, y, [1, 10]);
  const line = d3.line().x(d => p.x(d[0])).y(d => y(d[1]));
  [bondPrice1, bondPrice2, bondPrice3, bondPrice4, bondPrice5, bondPrice6].forEach((s, i) => {
    p.under.append('path').datum(evenT(s)).attr('fill', 'none').attr('stroke', bondColors[i])
      .attr('stroke-opacity', 0.65).attr('stroke-width', 1.2).attr('d', line);
  });
  p.under.append('path').datum(prefPrice).attr('fill', 'none').attr('stroke', '#000')
    .attr('stroke-width', 1.2).attr('d', line);
  xAxis(p, false);
  logYAxis(p, y, [1, 10], [0.9, 2, 3, 4, 5, 6, 7, 8, 9, 20, 30]);
  frame(p);
  title(p, [['Prices of the bonds and of the preferred stock']]);
  ylabel(12, p.top + p.h / 2, [['P', 'it'], ['t', 'subit'], ['i', 'supit', TW]]);
  const rowsY = [159.3, 170, 180.7];
  const o = { opacity: 0.6, width: 1.8 };
  legendLine(55, 72, rowsY[0], bondColors[0], 'bond 1', 76.7, o);
  legendLine(55, 72, rowsY[1], bondColors[1], 'bond 2', 76.7, o);
  legendLine(55, 72, rowsY[2], bondColors[2], 'bond 3', 76.7, o);
  legendLine(115, 132, rowsY[0], bondColors[3], 'bond 4', 136, o);
  legendLine(115, 132, rowsY[1], bondColors[4], 'bond 5', 136, o);
  legendLine(175, 192, rowsY[0], bondColors[5], 'bond 6', 196, o);
  legendLine(175, 192, rowsY[1], '#000', 'preferred stock', 196);
}

// ---------------------------------------------------------------------------
// Stacked wealth-fraction panels
// ---------------------------------------------------------------------------
const stackKeys = ['pref', 'b6', 'b5', 'b4', 'b3', 'b2', 'b1', 'rf'];
const stackColors = {
  pref: '#000000', b6: '#6e6e6e', b5: '#00008b', b4: '#ffd700',
  b3: '#228b22', b2: '#ff0000', b1: '#8b0000', rf: '#c0c0c0'
};
function drawStack(p, times, cols) {
  const rows = times.map((t, i) => {
    const r = { t };
    stackKeys.forEach((k, j) => { r[k] = cols[j][i]; });
    return r;
  });
  const layers = d3.stack().keys(stackKeys)(rows);
  const y = d3.scaleLinear().domain([0, 1]).range([p.h, 0]);
  // each layer is filled down to zero, top-most first, so neighbours share no seam
  const area = d3.area().x(d => p.x(d.data.t)).y0(p.h).y1(d => y(Math.min(1, d[1])));
  layers.slice().reverse().forEach(layer => {
    p.under.append('path').datum(layer).attr('fill', stackColors[layer.key]).attr('d', area);
  });
  return y;
}

// 4. Fundamentalist
{
  const p = panel(1, 1, 'fund');
  const times = d3.range(0, 5001, 100);
  const y = drawStack(p, times,
    [fundPref, fundBond6, fundBond5, fundBond4, fundBond3, fundBond2, fundBond1, fundRiskFree]);
  grid(p, p.under.append('g'), y, [0.25, 0.5, 0.75]);
  xAxis(p, false);
  yAxis(p, y, [0, 0.25, 0.5, 0.75, 1], d => d === 0 ? '' : d3.format('.2f')(d));
  frame(p);
  title(p, [['Wealth fractions  of the fundamentalist']]);
  ylabel(472, p.top + p.h / 2, [['x', 'it'], ['t', 'subit'], ['f,i', 'supit', TW]]);
  svg.append('rect').attr('x', 585).attr('y', 154).attr('width', 263).attr('height', 23.5)
    .attr('rx', 2).attr('fill', '#fff').attr('fill-opacity', 0.5)
    .attr('stroke', '#ccc').attr('stroke-opacity', 0.6).attr('stroke-width', 0.8);
  const items = [
    ['pref', 'preferred stock', 0, 0], ['b6', 'bond 6', 0, 1],
    ['b5', 'bond 5', 1, 0], ['b4', 'bond 4', 1, 1],
    ['b3', 'bond 3', 2, 0], ['b2', 'bond 2', 2, 1],
    ['b1', 'bond 1', 3, 0], ['rf', 'risk-free', 3, 1]
  ];
  const colX = [587, 678, 742, 797];
  const rowY = [159.7, 170.3];
  items.forEach(([k, label, c, r]) => {
    svg.append('rect').attr('x', colX[c]).attr('y', rowY[r] - 3.5).attr('width', 15.5).attr('height', 7)
      .attr('fill', stackColors[k]);
    svg.append('text').attr('x', colX[c] + 21).attr('y', rowY[r] + 2.5)
      .attr('font-size', LEG_FS).attr('fill', '#222').text(label);
  });
}

// ---------------------------------------------------------------------------
// 5. Yields to maturity
// ---------------------------------------------------------------------------
{
  const p = panel(0, 2, 'ytm');
  const y = d3.scaleLinear().domain([0, 6]).range([p.h, 0]);
  grid(p, p.under, y, [0, 2, 4, 6]);
  const line = d3.line().x(d => p.x(d[0])).y(d => y(d[1]));
  [bondYield1, bondYield2, bondYield3, bondYield4, bondYield5, bondYield6].forEach((s, i) => {
    p.under.append('path').datum(evenT(s)).attr('fill', 'none').attr('stroke', bondColors[i])
      .attr('stroke-width', 1.1).attr('d', line);
  });
  p.under.append('path').datum(prefYield).attr('fill', 'none').attr('stroke', '#000')
    .attr('stroke-width', 1.2).attr('d', line);
  xAxis(p, false);
  yAxis(p, y, [0, 2, 4, 6], d3.format('d'));
  frame(p);
  title(p, [['Yields to maturity of the individual assets']]);
  offsetText(p, '1e\u22122');
  ylabel(25, p.top + p.h / 2, [['YTM', 'it'], ['t', 'subit'], ['i', 'supit', TW]]);
  const r0 = 289.3, r1 = 300;
  const o = { opacity: 0.75 };
  legendLine(105, 122, r0, bondColors[0], 'bond 1', 126, o);
  legendLine(105, 122, r1, bondColors[1], 'bond 2', 126, o);
  legendLine(163, 180, r0, '#2ca02c', 'bond 3', 185, o);
  legendLine(163, 180, r1, bondColors[3], 'bond 4', 185, o);
  legendLine(223, 240, r0, '#1010c0', 'bond 5', 245, o);
  legendLine(223, 240, r1, '#555555', 'bond 6', 245, o);
  legendLine(283, 300, r0, '#000', 'preferred stock', 304, { opacity: 0.85 });
}

// ---------------------------------------------------------------------------
// 6. Chartist wealth fractions / opinion index
// ---------------------------------------------------------------------------
{
  const p = panel(1, 2, 'chart');
  const y = drawStack(p, chartTimes,
    [chartPref, chartBond6, chartBond5, chartBond4, chartBond3, chartBond2, chartBond1, chartRiskFree]);
  grid(p, p.under.append('g'), y, [0.25, 0.5, 0.75]);
  xAxis(p, false);
  yAxis(p, y, [0, 0.25, 0.5, 0.75, 1], d3.format('.2f'));
  const yOpinion = d3.scaleLinear().domain([-1, 1]).range([p.h, 0]);
  p.g.append('g').attr('transform', `translate(${p.w},0)`)
    .call(d3.axisRight(yOpinion).tickValues([-1, -0.5, 0, 0.5, 1]).tickSize(3.5).tickPadding(3.5)
      .tickFormat(d3.format('.1f')))
    .call(styleAxis);
  frame(p);
  title(p, [['Wealth fractions of the chartist / Opinion index '], ['s', 'it'], ['t', 'subit'], ['Step1', 'supit', 3]]);
  ylabel(472, p.top + p.h / 2, [['x', 'it'], ['t', 'subit'], ['c,i', 'supit', TW]]);
  ylabel(882, p.top + p.h / 2, [['s', 'it'], ['t', 'subit'], ['Step1', 'supit', TW]]);
}

// ---------------------------------------------------------------------------
// 7. Wealth levels (log scale)
// ---------------------------------------------------------------------------
{
  const p = panel(0, 3, 'wealth');
  const y = d3.scaleLog().domain([0.825, 30.4]).range([p.h, 0]);
  grid(p, p.under, y, [1, 10]);
  const line = d3.line().x(d => p.x(d[0])).y(d => y(d[1]));
  p.under.append('path').datum(wealthChartist).attr('fill', 'none').attr('stroke', '#00008b')
    .attr('stroke-width', 1.3).attr('d', line);
  p.under.append('path').datum(wealthFundamentalist).attr('fill', 'none').attr('stroke', '#1a7a1a')
    .attr('stroke-width', 1.3).attr('d', line);
  xAxis(p, true);
  logYAxis(p, y, [1, 10], [0.9, 2, 3, 4, 5, 6, 7, 8, 9, 20, 30]);
  frame(p);
  title(p, [['Wealth levels normalized at '], ['t', 'it'], ['0', 'sub'], [' = 0']]);
  ylabel(13, p.top + p.h / 2,
    [['W', 'it'], ['t', 'subit'], ['c', 'supit', TW], [', '], ['W', 'it'], ['t', 'subit'], ['f', 'supit', TW]]);
  legendLine(154, 172, 420.7, '#00008b', 'chartist', 177, { opacity: 0.8 });
  legendLine(224, 242, 420.7, '#1a7a1a', 'fundamentalist', 248, { opacity: 0.8 });
}

// ---------------------------------------------------------------------------
// 8. Herding propensity
// ---------------------------------------------------------------------------
{
  const p = panel(1, 3, 'kappa');
  const y = d3.scaleLinear().domain([0.1112, 0.3106]).range([p.h, 0]);
  grid(p, p.under, y, [0.15, 0.2, 0.25, 0.3]);
  const line = d3.line().x(d => p.x(d[0])).y(d => y(d[1]));
  p.under.append('path').datum(kappa.map((v, i) => [i * 20, v])).attr('fill', 'none')
    .attr('stroke', '#b22222').attr('stroke-width', 1.2).attr('d', line);
  p.under.append('path').datum([[0, kappa0], [5000, kappa0]]).attr('fill', 'none')
    .attr('stroke', '#1a1aa0').attr('stroke-width', 1).attr('d', line);
  xAxis(p, true);
  yAxis(p, y, [0.15, 0.2, 0.25, 0.3], d3.format('.2f'));
  frame(p);
  title(p, [['Herding propensity '], ['\u03ba', 'it'], ['t', 'subit']]);
  ylabel(451, p.top + p.h / 2, [['\u03ba', 'it'], ['t', 'subit'], [', '], ['\u03ba', 'it'], ['0', 'sub']]);
  legendLine(610, 628, 420.7, '#b22222', [['\u03ba', 'it'], ['t', 'subit']], 634, { opacity: 0.75 });
  legendLine(658, 677, 420.7, '#1a1aa0', [['\u03ba', 'it'], ['0', 'sub'], [' = 0.196']], 682, { opacity: 0.85 });
}
</script>
</body>
</html>
